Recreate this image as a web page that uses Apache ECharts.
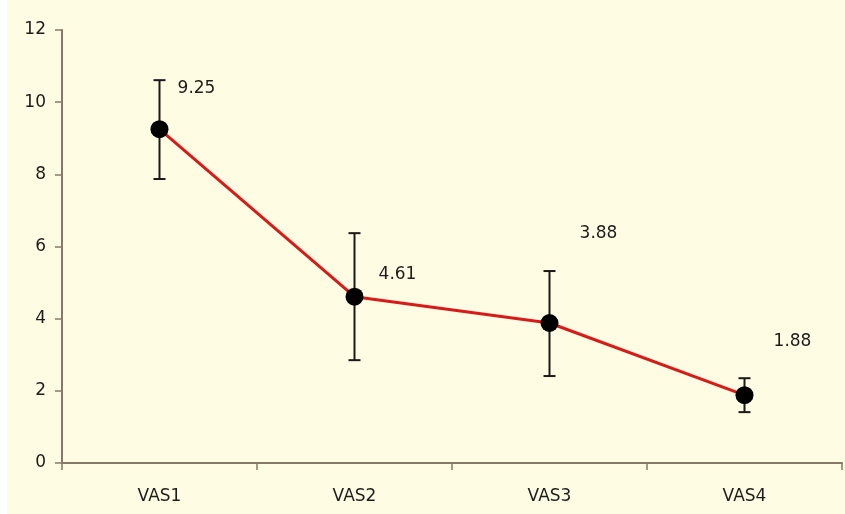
<!DOCTYPE html>
<html>
<head>
<meta charset="utf-8">
<script src="https://cdn.jsdelivr.net/npm/echarts@6/dist/echarts.min.js"></script>
<style>
html,body{margin:0;padding:0;background:#fff;}
#c{position:absolute;left:0;top:0;width:845px;height:514px;}
</style>
</head>
<body>
<div id="c"></div>
<script>
var categories = ['VAS1', 'VAS2', 'VAS3', 'VAS4'];
var means = [9.25, 4.61, 3.88, 1.88];
var errUpper = [10.61, 6.37, 5.32, 2.35];
var errLower = [7.87, 2.85, 2.41, 1.41];
var meanLabels = ['9.25', '4.61', '3.88', '1.88'];
var yTicks = [0, 2, 4, 6, 8, 10, 12];

var labelOffsets = [[37, -41], [43, -22], [49, -89], [48, -54]];
var axisColor = '#86796a';
var textColor = '#1c1c1c';
var font = 'DejaVu Sans';

var chart = echarts.init(document.getElementById('c'), null, {renderer: 'canvas'});

var errData = categories.map(function (c, i) { return [i, errLower[i], errUpper[i]]; });
var lineData = means.map(function (v, i) {
  return {
    value: v,
    label: {
      show: true,
      position: 'inside',
      offset: labelOffsets[i],
      formatter: meanLabels[i],
      color: textColor,
      fontSize: 17,
      fontFamily: font
    }
  };
});

var option = {
  backgroundColor: '#fefce2',
  animation: false,
  graphic: [{
    type: 'rect', left: 0, top: 0, shape: {width: 7, height: 514},
    style: {fill: '#ffffff'}, z: -1, silent: true
  }],
  grid: {left: 62, right: 3, top: 30, bottom: 51},
  xAxis: {
    type: 'category',
    data: categories,
    boundaryGap: true,
    axisLine: {lineStyle: {color: axisColor, width: 2}},
    axisTick: {show: true, inside: false, length: 7, lineStyle: {color: axisColor, width: 1.5}, alignWithLabel: false},
    axisLabel: {color: textColor, fontSize: 17, fontFamily: font, margin: 25},
    splitLine: {show: false}
  },
  yAxis: {
    type: 'value',
    min: 0,
    max: 12,
    interval: 2,
    axisLine: {show: true, lineStyle: {color: axisColor, width: 2}},
    axisTick: {show: true, length: 7, lineStyle: {color: axisColor, width: 1.5}},
    axisLabel: {
      color: textColor, fontSize: 17, fontFamily: font, margin: 16,
      formatter: function (v) { return yTicks.indexOf(v) >= 0 ? String(v) : ''; }
    },
    splitLine: {show: false}
  },
  series: [
    {
      type: 'custom',
      z: 2,
      data: errData,
      renderItem: function (params, api) {
        var x = api.value(0);
        var lo = api.coord([x, api.value(1)]);
        var hi = api.coord([x, api.value(2)]);
        var hw = 6;
        var st = {stroke: '#1a1a1a', lineWidth: 2};
        return {
          type: 'group',
          children: [
            {type: 'line', shape: {x1: hi[0], y1: hi[1], x2: lo[0], y2: lo[1]}, style: st},
            {type: 'line', shape: {x1: hi[0] - hw, y1: hi[1], x2: hi[0] + hw, y2: hi[1]}, style: st},
            {type: 'line', shape: {x1: lo[0] - hw, y1: lo[1], x2: lo[0] + hw, y2: lo[1]}, style: st}
          ]
        };
      }
    },
    {
      type: 'line',
      z: 3,
      data: lineData,
      symbol: 'circle',
      symbolSize: 18,
      lineStyle: {color: '#d81b19', width: 3},
      itemStyle: {color: '#000000', borderWidth: 0}
    }
  ]
};
chart.setOption(option);
</script>
</body>
</html>
